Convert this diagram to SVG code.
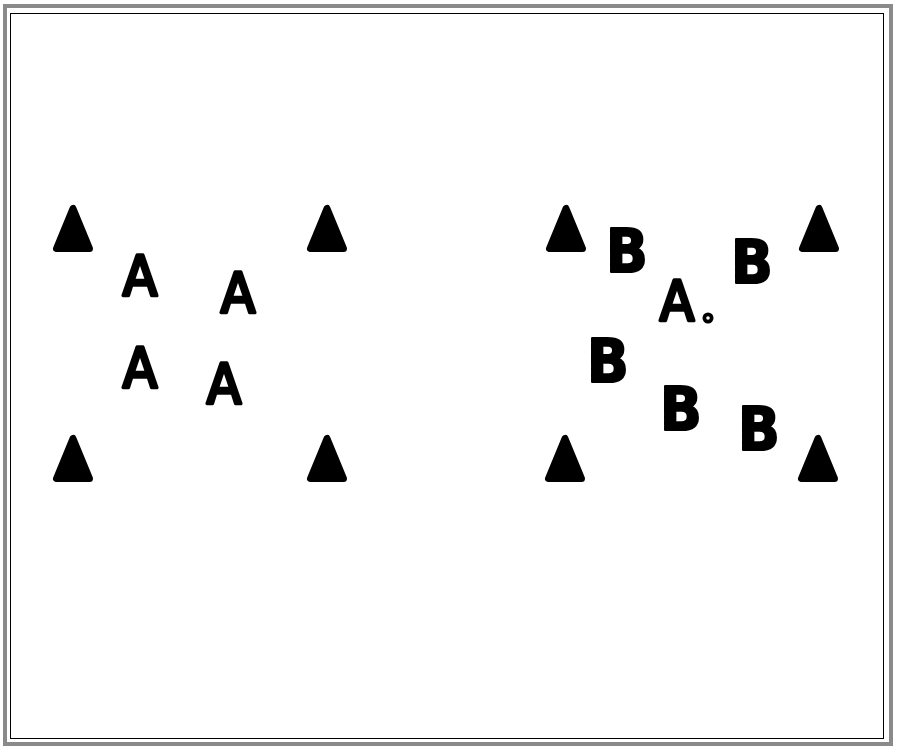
<svg xmlns="http://www.w3.org/2000/svg" xmlns:xlink="http://www.w3.org/1999/xlink" width="900" height="755" viewBox="0 0 900 755">
  <style>
    .a { font-family: "DejaVu Sans Condensed", "DejaVu Sans", sans-serif; font-weight: normal; font-size: 56px; fill: #000; stroke: #000; stroke-width: 3.5; stroke-linejoin: round; text-anchor: middle; }
    .b { font-family: "DejaVu Sans Condensed", "DejaVu Sans", sans-serif; font-weight: bold; font-size: 61px; fill: #000; stroke: #000; stroke-width: 2; stroke-linejoin: round; text-anchor: middle; }
    .cone { fill: #000; stroke: #000; stroke-width: 7; stroke-linejoin: round; }
  </style>
  <defs>
    <polygon id="coneShape" class="cone" points="0,3.5 -16.5,43.5 16.5,43.5"/>
  </defs>
  <rect x="0" y="0" width="900" height="755" fill="#fff"/>
  <g id="frame">
    <rect x="5" y="6" width="886" height="738" fill="none" stroke="#8a8a8a" stroke-width="4"/>
    <rect x="10.5" y="13.5" width="873" height="725" fill="none" stroke="#000" stroke-width="1"/>
  </g>
  <g id="cones">
    <g id="cone1"><use xlink:href="#coneShape" x="73" y="205"/></g>
    <g id="cone2"><use xlink:href="#coneShape" x="327" y="205"/></g>
    <g id="cone3"><use xlink:href="#coneShape" x="566" y="205"/></g>
    <g id="cone4"><use xlink:href="#coneShape" x="819" y="205"/></g>
    <g id="cone5"><use xlink:href="#coneShape" x="73" y="435"/></g>
    <g id="cone6"><use xlink:href="#coneShape" x="327" y="435"/></g>
    <g id="cone7"><use xlink:href="#coneShape" x="565" y="435"/></g>
    <g id="cone8"><use xlink:href="#coneShape" x="818" y="435"/></g>
  </g>
  <g id="playersA">
    <g id="a1"><text class="a" x="140" y="295">A</text></g>
    <g id="a2"><text class="a" x="238" y="312">A</text></g>
    <g id="a3"><text class="a" x="140" y="387">A</text></g>
    <g id="a4"><text class="a" x="224" y="403">A</text></g>
    <g id="a5"><text class="a" x="677" y="320">A</text></g>
  </g>
  <g id="playersB">
    <g id="b1"><text class="b" x="627" y="272">B</text></g>
    <g id="b2"><text class="b" x="752" y="283">B</text></g>
    <g id="b3"><text class="b" x="608" y="382">B</text></g>
    <g id="b4"><text class="b" x="681" y="430">B</text></g>
    <g id="b5"><text class="b" x="759" y="450">B</text></g>
  </g>
  <g id="ball">
    <circle cx="708" cy="318" r="5.5" fill="#000"/>
    <circle cx="708" cy="318" r="1.8" fill="#fff"/>
  </g>
  <g id="connectors"></g>
</svg>
